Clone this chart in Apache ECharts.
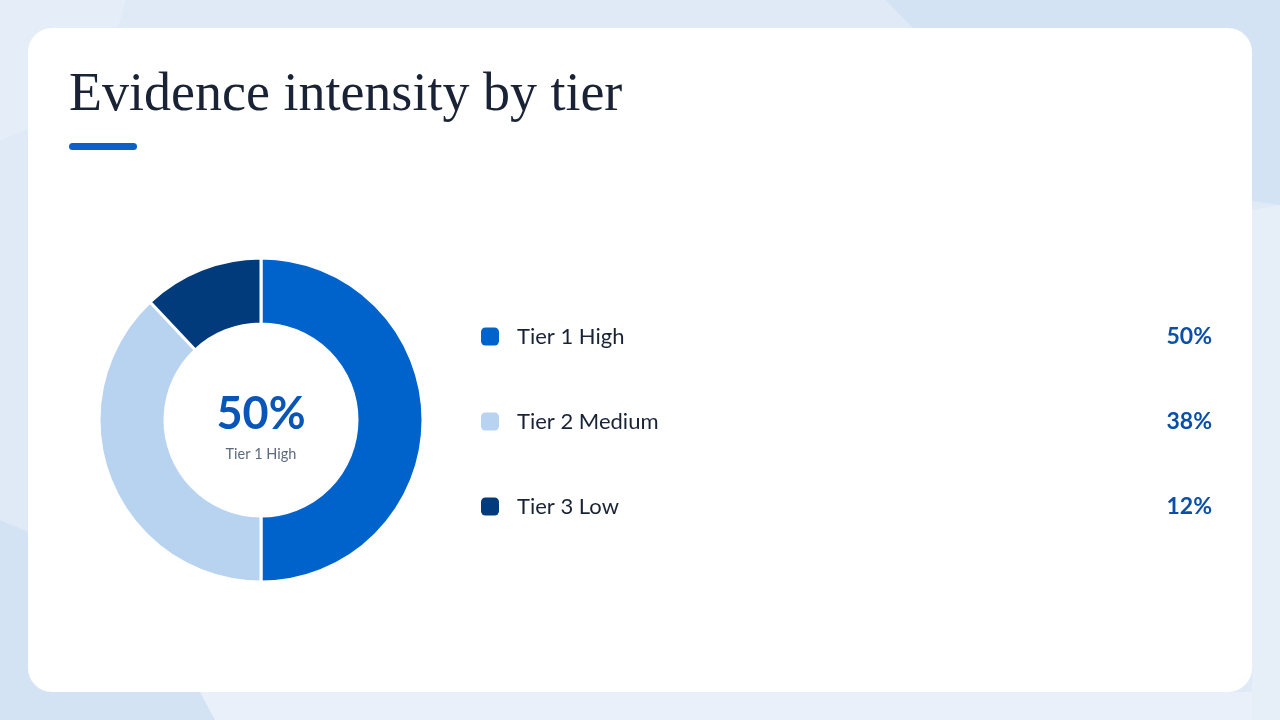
<!DOCTYPE html>
<html lang="en">
<head>
    <meta charset="UTF-8">
    <title>Evidence intensity by tier</title>
    <script src="https://cdn.jsdelivr.net/npm/echarts@6/dist/echarts.min.js"></script>
    <style>
        html, body { margin: 0; padding: 0; background: #dfeaf6; }
        #container { width: 1280px; height: 720px; }
    </style>
</head>
<body>
<div id="container"></div>
<script>
    // data
    let tiers = ['Tier 1 High', 'Tier 2 Medium', 'Tier 3 Low'];
    let shares = [50, 38, 12];
    let tierColors = ['#0063cb', '#b8d3ef', '#023b7c'];

    let chart = echarts.init(document.getElementById('container'));
    let font = 'Lato, "Noto Sans", sans-serif';

    let pieData = tiers.map(function (name, i) {
        return {name: name, value: shares[i], itemStyle: {color: tierColors[i]}};
    });
    // center label only on the first (largest) slice
    pieData[0].label = {
        show: true,
        position: 'center',
        formatter: '{s| }\n{p|' + shares[0] + '%}\n{t|' + tiers[0] + '}',
        rich: {
            s: {fontSize: 10, lineHeight: 16},
            p: {fontFamily: font, fontSize: 45, fontWeight: 'bold', color: '#0a56b8', lineHeight: 52},
            t: {fontFamily: font, fontSize: 14.5, color: '#5d6b7e', lineHeight: 28}
        }
    };

    let option = {
        backgroundColor: '#dfeaf6',
        graphic: [
            // soft background shapes
            {type: 'circle', shape: {cx: 1360, cy: -430, r: 640}, style: {fill: '#d3e3f4'}, z: 0},
            {type: 'circle', shape: {cx: -60, cy: -40, r: 190}, style: {fill: '#e4edf8'}, z: 0},
            {type: 'polygon', shape: {points: [[0, 520], [190, 600], [215, 720], [0, 720]]}, style: {fill: '#d4e3f3'}, z: 0},
            {type: 'polygon', shape: {points: [[215, 720], [200, 692], [1280, 692], [1280, 720]]}, style: {fill: '#e9f0f9'}, z: 0},
            {type: 'polygon', shape: {points: [[1252, 210], [1280, 205], [1280, 720], [1252, 720]]}, style: {fill: '#e6eef8'}, z: 0},
            // card
            {type: 'rect', shape: {x: 28, y: 28, width: 1224, height: 664, r: 24}, style: {fill: '#ffffff'}, z: 1},
            // title accent bar
            {type: 'rect', shape: {x: 69, y: 143, width: 68, height: 7, r: 3.5}, style: {fill: '#0a62c9'}, z: 2}
        ],
        title: {
            text: 'Evidence intensity by tier',
            left: 64,
            top: 64,
            textStyle: {fontFamily: '"Liberation Serif", "DejaVu Serif", serif', fontSize: 54, fontWeight: 'normal', color: '#1a2336'},
            z: 3
        },
        legend: {
            orient: 'vertical',
            left: 481,
            top: 325,
            padding: 0,
            itemWidth: 18,
            itemHeight: 18,
            itemGap: 62,
            icon: 'roundRect',
            itemStyle: {borderWidth: 0},
            selectedMode: false,
            data: tiers,
            formatter: function (name) {
                let i = tiers.indexOf(name);
                return '{n|' + name + '}{v|' + shares[i] + '%}';
            },
            textStyle: {
                rich: {
                    n: {fontFamily: font, fontSize: 22, color: '#1a2336', width: 635, padding: [0, 0, 0, 13], lineHeight: 24},
                    v: {fontFamily: font, fontSize: 23, fontWeight: 'bold', color: '#0a4fa8', width: 60, align: 'right', lineHeight: 24}
                }
            },
            z: 3
        },
        series: [{
            name: 'Evidence intensity',
            type: 'pie',
            center: [261, 420],
            radius: [96, 162],
            startAngle: 90,
            clockwise: true,
            avoidLabelOverlap: false,
            silent: true,
            label: {show: false},
            labelLine: {show: false},
            itemStyle: {borderColor: '#ffffff', borderWidth: 3},
            data: pieData,
            z: 3
        }]
    };
    chart.setOption(option);
</script>
</body>
</html>
